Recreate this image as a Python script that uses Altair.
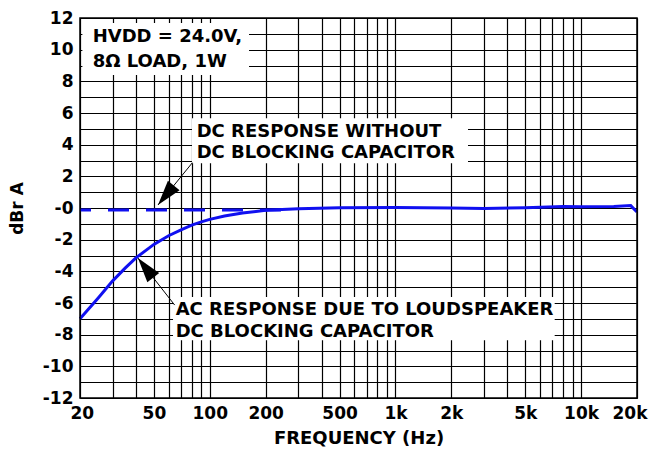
import math
import altair as alt
import pandas as pd

# ---- data ----
freq_ac = [20, 25, 30, 35, 40, 50, 60, 70, 80, 90, 100, 120, 150, 200, 300,
           500, 1000, 2000, 3000, 5000, 8000, 10000, 15000, 18500, 20000]
db_ac = [-7.0, -5.7, -4.6, -3.8, -3.15, -2.3, -1.75, -1.38, -1.08, -0.88, -0.72,
         -0.5, -0.32, -0.14, -0.05, 0.02, 0.03, 0.0, -0.03, 0.02, 0.1, 0.08,
         0.1, 0.15, -0.25]
freq_dc = [20, 250]
db_dc = [-0.13, -0.13]

x_grid = [20, 30, 40, 50, 60, 70, 80, 90, 100, 200, 300, 400, 500, 600, 700,
          800, 900, 1000, 2000, 3000, 4000, 5000, 6000, 7000, 8000, 9000,
          10000, 20000]
x_labels = [20, 50, 100, 200, 500, 1000, 2000, 5000, 10000, 20000]
y_grid = list(range(-12, 13))

# annotation boxes (data coords)
box_x1 = [20.6, 80.2, 63.4]
box_x2 = [162.7, 2459, 7206]
box_y1 = [11.68, 5.665, -5.62]
box_y2 = [8.4, 2.823, -8.356]

# annotation text lines
txt_lines = ["HVDD = 24.0V,", "8\u03a9 LOAD, 1W",
             "DC RESPONSE WITHOUT", "DC BLOCKING CAPACITOR",
             "AC RESPONSE DUE TO LOUDSPEAKER", "DC BLOCKING CAPACITOR"]
txt_x = [23.4, 23.4, 85.0, 85.0, 65.5, 65.5]
txt_y = [10.50, 8.92, 4.50, 3.14, -6.78, -8.15]

# arrows: tail -> tip
arr_x_tail = [80.6, 64.7]
arr_y_tail = [2.86, -6.13]
arr_x_tip = [52.6, 41.0]
arr_y_tip = [0.19, -3.16]

W, H = 557, 380
XMIN, XMAX, YMIN, YMAX = 20, 20000, -12, 12


def px(f):
    return W * math.log10(f / XMIN) / math.log10(XMAX / XMIN)


def py(v):
    return H * (YMAX - v) / (YMAX - YMIN)


angles = []
for xt, yt, xh, yh in zip(arr_x_tail, arr_y_tail, arr_x_tip, arr_y_tip):
    dx = px(xh) - px(xt)
    dy = py(yh) - py(yt)
    ang = math.degrees(math.atan2(dx, -dy)) % 360
    angles.append(ang)

ac = pd.DataFrame({"f": freq_ac, "v": db_ac})
dc = pd.DataFrame({"f": freq_dc, "v": db_dc})
boxes = pd.DataFrame({"f": box_x1, "f2": box_x2, "v": box_y1, "v2": box_y2})
texts = pd.DataFrame({"f": txt_x, "v": txt_y, "t": txt_lines})
arrows = pd.DataFrame({"f": arr_x_tail, "v": arr_y_tail,
                       "f2": arr_x_tip, "v2": arr_y_tip, "a": angles})

lab_list = ",".join(str(v) for v in x_labels)
x_label_expr = (f"indexof([{lab_list}], datum.value) >= 0 ? "
                "(datum.value >= 1000 ? (datum.value/1000) + 'k' : '' + datum.value) : ''")
y_label_expr = ("datum.value % 2 == 0 ? (datum.value == 0 ? '-0' : '' + datum.value) : ''")

xscale = alt.Scale(type="log", domain=[XMIN, XMAX], nice=False)
yscale = alt.Scale(domain=[YMIN, YMAX], nice=False)

x_axis = alt.Axis(
    values=x_grid, labelExpr=x_label_expr, grid=True, ticks=False, domain=False,
    gridColor="black", gridOpacity=1, gridWidth=1.2,
    labelOverlap=False, labelFlush=True, labelFlushOffset=10, labelPadding=7,
    labelFontSize=17,
    labelFont="DejaVu Sans", labelFontWeight="bold", labelColor="black",
    title="FREQUENCY (Hz)", titleFontSize=18, titleFont="DejaVu Sans",
    titleFontWeight="bold", titleColor="black", titlePadding=8)
y_axis = alt.Axis(
    values=y_grid, labelExpr=y_label_expr, grid=True, ticks=False, domain=False,
    gridColor="black", gridOpacity=1, gridWidth=1.2,
    labelOverlap=False, labelFlush=False, labelPadding=7, labelFontSize=17,
    labelFont="DejaVu Sans", labelFontWeight="bold", labelColor="black",
    title="dBr A", titleFontSize=17, titleFont="DejaVu Sans",
    titleFontWeight="bold", titleColor="black", titlePadding=16)


def X(field):
    return alt.X(field, scale=xscale, axis=x_axis)


def Y(field):
    return alt.Y(field, scale=yscale, axis=y_axis)


dc_line = alt.Chart(dc).mark_line(color="#1010f0", strokeWidth=3,
                                  strokeDash=[21, 17], strokeDashOffset=10).encode(
    x=X("f:Q"), y=Y("v:Q"))

rects = alt.Chart(boxes).mark_rect(fill="white", strokeWidth=0, opacity=1).encode(
    x=X("f:Q"), x2="f2:Q", y=Y("v:Q"), y2="v2:Q")

ac_line = alt.Chart(ac).mark_line(color="#1010f0", strokeWidth=3).encode(
    x=X("f:Q"), y=Y("v:Q"))

text = alt.Chart(texts).mark_text(align="left", baseline="alphabetic",
                                  font="DejaVu Sans", fontWeight="bold",
                                  fontSize=18, color="black").encode(
    x=X("f:Q"), y=Y("v:Q"), text="t:N")

arrow_lines = alt.Chart(arrows).mark_rule(color="black", strokeWidth=1).encode(
    x=X("f:Q"), y=Y("v:Q"), x2="f2:Q", y2="v2:Q")

arrow_heads = alt.Chart(arrows).mark_point(
    shape="M0,0 L-0.3,1 L0.3,1 Z", filled=True, fill="black", strokeWidth=0,
    opacity=1, size=2500).encode(
    x=X("f2:Q"), y=Y("v2:Q"), angle=alt.Angle("a:Q", scale=None))

frame = alt.Chart(pd.DataFrame({"k": [0]})).mark_rect(
    fill=None, stroke="black", strokeWidth=1.5).encode(
    x=alt.value(0), x2=alt.value(W), y=alt.value(0), y2=alt.value(H))

chart = alt.layer(dc_line, rects, ac_line, arrow_lines, arrow_heads, text, frame).properties(
    width=W, height=H,
    padding={"left": 72, "top": 10, "right": 17, "bottom": 50},
    autosize=alt.AutoSizeParams(type="none"),
).configure_view(stroke="black", strokeWidth=1.5).configure(background="white")

chart.save("out.html", embed_options={"renderer": "svg", "actions": False})
